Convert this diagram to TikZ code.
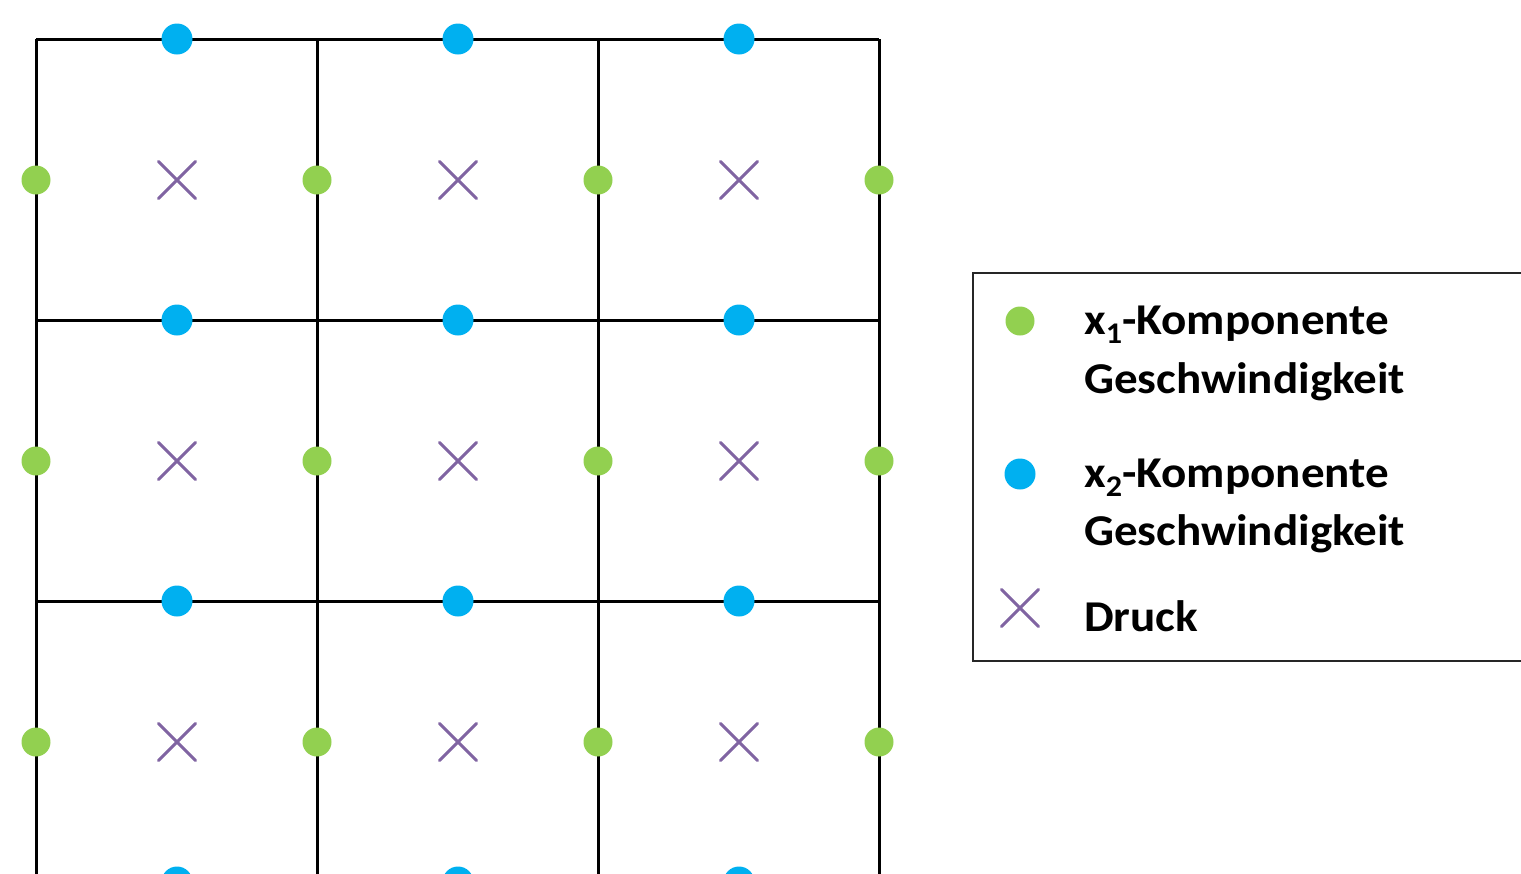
\documentclass[tikz,border=0pt]{standalone}
\usepackage{fontspec}
\setmainfont{Carlito}
\newfontfamily\legfont[FakeStretch=1.07]{Carlito}
\usetikzlibrary{shapes.misc}
\definecolor{vgreen}{HTML}{92D050}
\definecolor{vblue}{HTML}{00B0F0}
\definecolor{vpurple}{HTML}{8064A2}
\begin{document}
\begin{tikzpicture}[x=1pt,y=-1pt,
  gdot/.style={circle,fill=vgreen,minimum size=29pt,inner sep=0pt},
  bdot/.style={circle,fill=vblue,minimum size=31pt,inner sep=0pt},
  pcross/.style={draw=vpurple,line width=3pt,line cap=round,cross out,minimum size=34pt,inner sep=0pt},
  gridline/.style={line width=3pt,black},
  legtext/.style={anchor=base west,inner sep=0pt,font=\legfont\fontsize{44}{44}\selectfont\bfseries}]
\useasboundingbox (0,0) rectangle (1521,873);
\clip (0,0) rectangle (1521,873);
% grid
\foreach \x in {36,317,598,879} \draw[gridline] (\x,39) -- (\x,900);
\foreach \y in {39,320,601} \draw[gridline] (36,\y) -- (879,\y);
\foreach \x [count=\i] in {36,317,598,879}
  \foreach \y [count=\j] in {180,461,742}
    \node[gdot] (g\i\j) at (\x,\y) {};
\foreach \x [count=\i] in {177,458,739}
  \foreach \y [count=\j] in {39,320,601,882}
    \node[bdot] (b\i\j) at (\x,\y) {};
\foreach \x [count=\i] in {177,458,739}
  \foreach \y [count=\j] in {180,461,742}
    \node[pcross] (p\i\j) at (\x,\y) {};
% legend
\draw[line width=1.5pt,black!85] (973,273) rectangle (1540,661);
\node[gdot] (lg) at (1020,321) {};
\node[bdot] (lb) at (1020,474) {};
\node[pcross] (lp) at (1020,608) {};
\node[legtext] (t1) at (1084,334) {x\raisebox{-0.22em}{\fontsize{30}{30}\selectfont 1}-Komponente};
\node[legtext] (t2) at (1084,393) {Geschwindigkeit};
\node[legtext] (t3) at (1084,487) {x\raisebox{-0.22em}{\fontsize{30}{30}\selectfont 2}-Komponente};
\node[legtext] (t4) at (1084,545) {Geschwindigkeit};
\node[legtext] (t5) at (1084,631) {Druck};
\end{tikzpicture}
\end{document}
